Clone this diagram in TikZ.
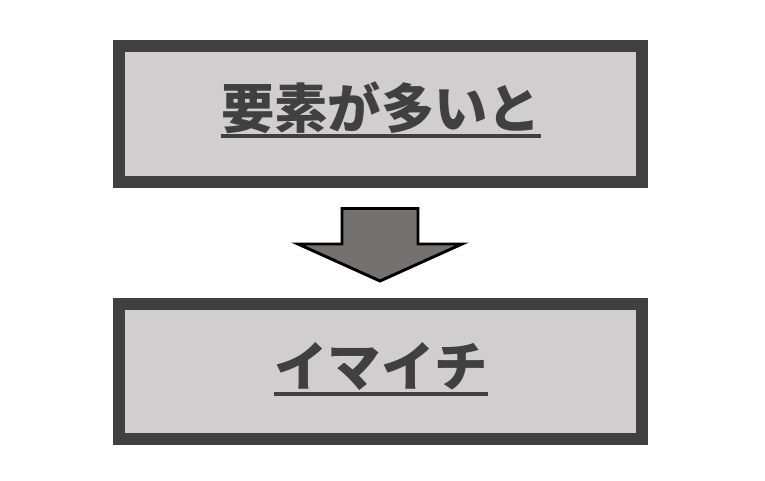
\documentclass[tikz,border=0pt]{standalone}
\usepackage{fontspec}
\newfontfamily\jp{Noto Sans CJK JP}
\definecolor{bordc}{HTML}{404040}
\definecolor{boxfill}{HTML}{D0CECE}
\definecolor{arrfill}{HTML}{767171}
\definecolor{txtc}{HTML}{404040}
\tikzset{
  panel/.style={draw=bordc, fill=boxfill, line width=9pt},
  label/.style={inner sep=0pt, anchor=base, text=txtc, font=\jp\bfseries\fontsize{40pt}{44pt}\selectfont},
  uline/.style={draw=txtc, line width=2.5pt},
  blockarrow/.style={draw=black, fill=arrfill, line width=2.2pt, line join=miter}
}
\begin{document}
\begin{tikzpicture}[x=0.75pt,y=-0.75pt]
\useasboundingbox (0,0) rectangle (765,481);
\draw[panel] (119,46.5) rectangle (642,182);
\draw[panel] (119,304) rectangle (642,439);
\node[label] (t1) at (381,129) {要素が多いと};
\node[label] (t2) at (381,387) {イマイチ};
\draw[uline] ([yshift=-5.25pt]t1.base west) -- ([yshift=-5.25pt]t1.base east);
\draw[uline] ([yshift=-5.25pt]t2.base west) -- ([yshift=-5.25pt]t2.base east);
\draw[blockarrow] (342,208.5) -- (418,208.5) -- (418,244) -- (462,244) -- (380,281) -- (298,244) -- (342,244) -- cycle;
\end{tikzpicture}
\end{document}
